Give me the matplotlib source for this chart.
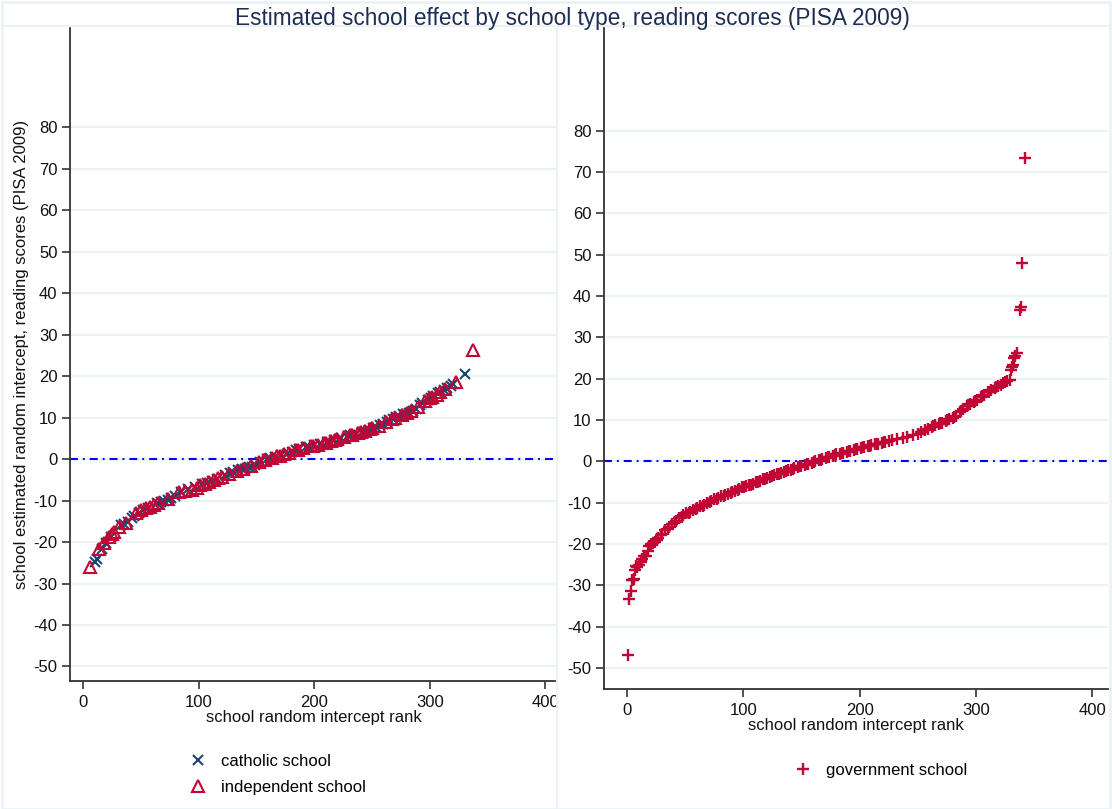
import matplotlib
matplotlib.use("Agg")
import matplotlib.pyplot as plt
from matplotlib.patches import Rectangle

plt.rcParams['font.family'] = ['Liberation Sans', 'DejaVu Sans']
plt.rcParams['axes.unicode_minus'] = False

# ---------------- data ----------------
title = "Estimated school effect by school type, reading scores (PISA 2009)"
ylabel = "school estimated random intercept, reading scores (PISA 2009)"
xlabel = "school random intercept rank"

xticks = [0, 100, 200, 300, 400]
yticks = [-50, -40, -30, -20, -10, 0, 10, 20, 30, 40, 50, 60, 70, 80]

catholic_rank = [10, 12, 16, 20, 24, 33, 35, 39, 42, 44, 48, 52, 56, 64, 67, 70, 73, 76,
                 79, 85, 91, 97, 103, 107, 111, 116, 123, 127, 130, 134, 137, 140, 143,
                 146, 149, 153, 159, 162, 166, 171, 176, 181, 184, 187, 193, 195, 200,
                 205, 211, 213, 217, 221, 223, 229, 231, 236, 241, 243, 247, 251, 253,
                 257, 259, 263, 265, 268, 271, 273, 277, 279, 282, 285, 288, 291, 293,
                 298, 301, 303, 307, 309, 312, 315, 318, 320, 330]
catholic_value = [-24.8, -24.0, -21.8, -20.2, -18.7, -16.0, -15.6, -15.1, -14.3, -13.8,
                  -12.9, -12.2, -11.7, -10.7, -10.3, -10.0, -9.8, -9.5, -8.9, -7.9,
                  -7.3, -6.8, -6.1, -5.7, -5.3, -4.8, -3.9, -3.4, -3.2, -2.7, -2.5,
                  -2.3, -2.0, -1.8, -1.4, -0.7, -0.1, 0.2, 0.5, 0.9, 1.3, 1.8, 2.1, 2.4,
                  2.9, 3.0, 3.3, 3.6, 4.0, 4.2, 4.6, 4.9, 5.1, 5.6, 5.7, 6.1, 6.5, 6.6,
                  7.1, 7.5, 7.7, 8.2, 8.5, 9.0, 9.3, 9.7, 10.1, 10.3, 10.8, 10.9, 11.2,
                  11.6, 12.0, 13.0, 13.4, 14.3, 14.8, 15.1, 15.8, 16.1, 16.6, 17.1,
                  17.6, 18.0, 20.5]

independent_rank = [6, 14, 18, 22, 25, 27, 31, 37, 46, 50, 54, 58, 61, 65, 73, 83,
                    88, 94, 98, 101, 105, 109, 113, 117, 120, 126, 133, 138, 145, 152,
                    156, 157, 163, 168, 170, 174, 178, 184, 186, 190, 197, 199, 203,
                    208, 210, 214, 218, 220, 226, 231, 233, 238, 240, 244, 248, 250,
                    256, 262, 267, 270, 276, 280, 284, 290, 296, 300, 302, 306, 309,
                    313, 323, 337]
independent_value = [-26.0, -21.8, -20.3, -18.8, -18.0, -17.5, -16.4, -15.3,
                     -13.1, -12.3, -11.9, -11.5, -11.1, -10.7, -9.7, -7.9, -7.6, -7.4,
                     -6.9, -6.3, -5.9, -5.5, -5.1, -4.6, -4.3, -3.5, -2.8, -2.3, -1.6,
                     -0.8, -0.3, -0.2, 0.3, 0.7, 0.8, 1.1, 1.5, 2.2, 2.3, 2.7, 3.1, 3.2,
                     3.4, 3.8, 3.9, 4.3, 4.6, 4.8, 5.3, 5.7, 5.9, 6.3, 6.4, 6.8, 7.2,
                     7.4, 8.0, 8.9, 9.6, 10.0, 10.7, 11.0, 11.6, 12.6, 14.0, 14.6, 15.0,
                     15.5, 16.2, 16.9, 18.5, 26.3]

government_rank = [1, 2, 3, 4, 5, 6, 7, 8, 9, 10, 12, 13, 15, 16, 18, 19, 21, 22, 24,
                   26, 27, 29, 30, 33, 35, 36, 39, 41, 42, 45, 47, 48, 51, 53, 54, 57,
                   59, 60, 63, 65, 66, 69, 71, 72, 75, 77, 78, 81, 83, 84, 87, 89, 90,
                   93, 95, 96, 99, 101, 102, 105, 107, 108, 111, 113, 114, 117, 119,
                   120, 123, 125, 126, 129, 131, 132, 135, 137, 138, 141, 143, 144,
                   147, 149, 150, 153, 155, 156, 159, 161, 162, 165, 167, 168, 171,
                   173, 174, 177, 179, 180, 183, 185, 186, 189, 191, 192, 195, 197,
                   198, 201, 203, 204, 207, 209, 210, 213, 215, 216, 219, 221, 222,
                   225, 228, 232, 237, 241, 246, 250, 253, 256, 259, 262, 263, 265,
                   268, 269, 271, 274, 275, 277, 280, 281, 283, 286, 287, 289, 292,
                   293, 295, 298, 299, 301, 304, 305, 307, 310, 311, 313, 316, 317,
                   319, 322, 323, 325, 327, 329, 330, 331, 332, 333, 334, 335, 338,
                   339, 340, 342]
government_value = [-46.8, -33.4, -31.3, -28.8, -28.6, -28.4, -26.2, -25.4, -25.6,
                    -25.2, -24.3, -23.6, -22.8, -22.9, -21.7, -20.6, -20.1, -19.8,
                    -19.6, -19.0, -18.5, -17.9, -17.5, -16.6, -16.3, -15.8, -15.1,
                    -14.6, -14.4, -13.7, -13.5, -13.1, -12.6, -12.4, -12.2, -11.8,
                    -11.6, -11.3, -10.9, -10.8, -10.5, -10.1, -9.9, -9.6, -9.1, -9.0,
                    -8.8, -8.4, -8.3, -8.1, -7.8, -7.6, -7.4, -7.1, -7.0, -6.8, -6.3,
                    -6.2, -6.0, -5.7, -5.6, -5.4, -5.1, -4.9, -4.7, -4.3, -4.2, -4.0,
                    -3.7, -3.6, -3.4, -3.1, -3.0, -2.8, -2.5, -2.4, -2.2, -2.0, -1.8,
                    -1.7, -1.4, -1.2, -1.1, -0.8, -0.7, -0.6, -0.3, -0.1, 0.0, 0.3,
                    0.4, 0.5, 0.8, 1.0, 1.1, 1.4, 1.6, 1.7, 1.9, 2.0, 2.1, 2.3, 2.5,
                    2.6, 2.8, 3.0, 3.1, 3.3, 3.4, 3.5, 3.6, 3.8, 3.9, 4.1, 4.2, 4.3,
                    4.5, 4.6, 4.7, 4.9, 5.1, 5.4, 5.7, 5.9, 6.3, 6.7, 7.1, 7.5, 7.9,
                    8.3, 8.5, 8.7, 9.0, 9.2, 9.4, 9.8, 10.0, 10.2, 10.6, 10.8, 11.1,
                    11.9, 12.2, 12.6, 13.3, 13.6, 13.9, 14.4, 14.6, 14.9, 15.5, 15.8,
                    16.1, 16.7, 16.9, 17.2, 17.7, 17.9, 18.2, 18.6, 18.9, 19.1, 19.5,
                    19.8, 22.1, 22.8, 23.4, 24.9, 25.5, 26.2, 36.6, 37.3, 47.9, 73.5]

# ---------------- style ----------------
NAVY = '#1a476f'
RED = '#c10534'
GRID = '#eaf2f3'
BG = '#eaf2f3'
FS = 12
W, H = 1112, 809

fig = plt.figure(figsize=(W / 100, H / 100), dpi=100)
fig.patch.set_facecolor('white')

# graph-combine panel outlines
fig.patches.append(Rectangle((2 / W, 0), 1 - 4 / W, 1 - 2 / H, transform=fig.transFigure,
                             fill=False, edgecolor=BG, lw=2, zorder=0))
fig.patches.append(Rectangle((557 / W, 0), 0.0, (809 - 26) / H, transform=fig.transFigure,
                             fill=False, edgecolor=BG, lw=1.5, zorder=0))
fig.patches.append(Rectangle((2 / W, (809 - 26) / H), 1 - 4 / W, 0, transform=fig.transFigure,
                             fill=False, edgecolor=BG, lw=1.5, zorder=0))


def style_axes(ax):
    ax.set_facecolor('none')
    for s in ['top', 'right']:
        ax.spines[s].set_visible(False)
    for s in ['left', 'bottom']:
        ax.spines[s].set_color('#333333')
        ax.spines[s].set_linewidth(1.3)
    ax.set_xticks(xticks)
    ax.set_yticks(yticks)
    ax.tick_params(axis='both', direction='out', length=6, width=1.2, color='#333333',
                   labelsize=FS, labelcolor='#111111', pad=3)
    ax.tick_params(axis='x', pad=4)
    ax.yaxis.grid(True, color=GRID, lw=1.6, zorder=0)
    ax.xaxis.grid(False)
    ax.set_axisbelow(True)
    zl = ax.axhline(0, color='#0000ff', lw=1.5, zorder=1)
    zl.set_dashes((3.8, 2.4, 0.9, 2.4))


# left panel
axL = fig.add_axes([70 / W, (809 - 681) / H, 487 / W, 653 / H])
style_axes(axL)
axL.set_xlim(-11.5, 410)
axL.set_ylim(-53.5, 103.9)
axL.plot(catholic_rank, catholic_value, linestyle='none', marker='x', ms=7.5, mew=1.5,
         color=NAVY, label='catholic school', zorder=3)
axL.plot(independent_rank, independent_value, linestyle='none', marker='^', ms=8,
         mew=1.5, mfc='none', mec=RED, label='independent school', zorder=3)
axL.set_xlabel(xlabel, fontsize=FS, labelpad=0, color='#111111')
axL.set_ylabel(ylabel, fontsize=FS, labelpad=3, color='#111111')
axL.legend(loc='upper left', bbox_to_anchor=(188 / W, 1 - 754 / H),
           bbox_transform=fig.transFigure, frameon=False, fontsize=FS,
           handlelength=1.2, handletextpad=0.8, labelspacing=0.65, borderpad=0,
           borderaxespad=0)

# right panel
axR = fig.add_axes([604 / W, (809 - 689) / H, 504 / W, 661 / H])
style_axes(axR)
axR.set_xlim(-19.8, 413.6)
axR.set_ylim(-55.1, 104.9)
axR.plot(government_rank, government_value, linestyle='none', marker='+', ms=8.5,
         mew=1.7, color=RED, label='government school', zorder=3)
axR.set_xlabel(xlabel, fontsize=FS, labelpad=0, color='#111111')
axR.legend(loc='upper left', bbox_to_anchor=(793 / W, 1 - 763 / H),
           bbox_transform=fig.transFigure, frameon=False, fontsize=FS,
           handlelength=1.2, handletextpad=0.8, borderpad=0, borderaxespad=0)

fig.text(572 / W, 1 - 18 / H, title, ha='center', va='center', fontsize=16.3,
         color='#1e2d53')

fig.savefig('out.png', dpi=100)
